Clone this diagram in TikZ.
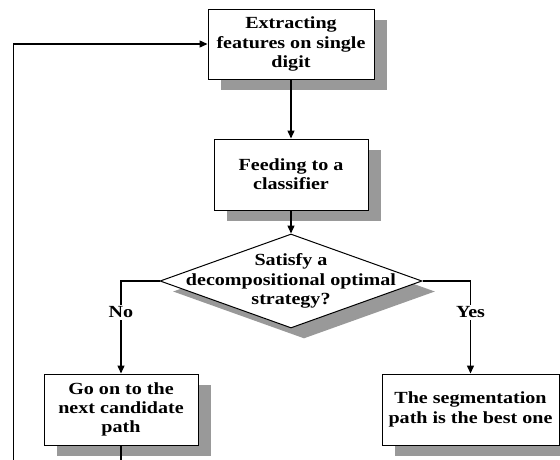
\documentclass[tikz,border=0pt]{standalone}
\usepackage{fontspec}
\setmainfont{Liberation Serif}[FakeStretch=1.18]
\usetikzlibrary{shapes.geometric,shadows,arrows.meta}

\begin{document}
\begin{tikzpicture}[x=1pt,y=-1pt,font=\fontsize{17}{19.3}\selectfont\bfseries,
  shade/.style={drop shadow={shadow xshift=13pt,shadow yshift=-10.5pt,fill=black!40,opacity=1}},
  box/.style={draw,line width=1pt,fill=white,align=center,inner sep=0pt,minimum height=71pt,shade},
  decision/.style={diamond,draw,line width=1pt,fill=white,inner sep=0pt,minimum width=262pt,minimum height=94pt,shade},
  arr/.style={line width=1.4pt,-{Triangle[length=8pt,width=7pt]}},
  lbl/.style={fill=white,inner sep=1.5pt}]

\useasboundingbox (0,0) rectangle (560,459);

\pgfmathsetmacro{\xmid}{291};
\pgfmathsetmacro{\xno}{121};
\pgfmathsetmacro{\xyes}{470.5};

\node[box,minimum width=166pt,minimum height=70pt] (extract) at (\xmid,44) {Extracting\\features on single\\digit};
\node[box,minimum width=154pt] (feed) at (\xmid,174.5) {Feeding to a\\classifier};
\node[decision] (satisfy) at (\xmid,281) {};
\node[align=center,inner sep=0pt] (satisfytext) at (satisfy) {Satisfy a\\decompositional optimal\\strategy?};
\node[box,minimum width=154pt] (next) at (\xno,409.5) {Go on to the\\next candidate\\path};
\node[box,minimum width=177pt] (best) at (\xyes,409.5) {The segmentation\\path is the best one};

\coordinate (loopr) at (\xno,462);
\coordinate (loopl) at (13.6,462);

\draw[arr] (extract.south) -- (feed.north);
\draw[arr] (feed.south) -- (satisfy.north);
\draw[arr] (satisfy.west) -| node[lbl,pos=.67] {No} (next.north);
\draw[arr] (satisfy.east) -| node[lbl,pos=.67] {Yes} (best.north);

% loop back (cut at the lower edge)
\draw[line width=1.4pt] (next.south) -- (loopr);
\draw[arr] (loopl) |- (extract.west);

\end{tikzpicture}
\end{document}
